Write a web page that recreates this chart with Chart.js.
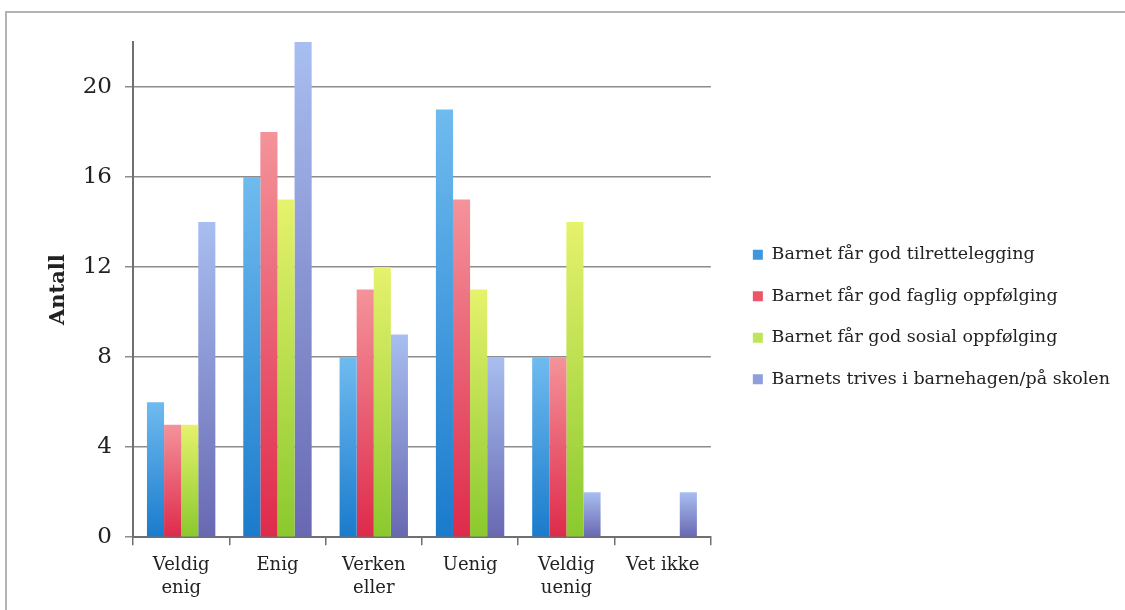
<!DOCTYPE html>
<html>
<head>
<meta charset="utf-8">
<script src="https://cdn.jsdelivr.net/npm/chart.js@4"></script>
<style>
html, body { margin: 0; padding: 0; background: #fff; }
#frame { position: absolute; left: 5px; top: 11px; width: 1125px; height: 610px; border-top: 2px solid #b4b4b4; border-left: 2px solid #b4b4b4; }
#wrap { position: absolute; left: 0; top: 0; width: 1125px; height: 610px; }
</style>
</head>
<body>
<div id="frame"></div>
<div id="wrap"><canvas id="chart"></canvas></div>
<script>
// categories on the x axis
const categories = [['Veldig', 'enig'], 'Enig', ['Verken', 'eller'], 'Uenig', ['Veldig', 'uenig'], 'Vet ikke'];

// series names
const seriesNames = [
    'Barnet får god tilrettelegging',
    'Barnet får god faglig oppfølging',
    'Barnet får god sosial oppfølging',
    'Barnets trives i barnehagen/på skolen'
];

// values (antall)
const tilrettelegging = [6, 16, 8, 19, 8, 0];
const fagligOppfolging = [5, 18, 11, 15, 8, 0];
const sosialOppfolging = [5, 15, 12, 11, 14, 0];
const trives = [14, 22, 9, 8, 2, 2];

const yMax = 22;
const yStep = 4;

// light top / dark bottom of each bar, plus legend swatch
const colors = [
    { light: '#6fbbef', dark: '#1a7bcc', swatch: '#3d97de' },
    { light: '#f4939a', dark: '#de2a4b', swatch: '#ee5468' },
    { light: '#e6f26c', dark: '#8ac92e', swatch: '#bfe65a' },
    { light: '#a8bef0', dark: '#6868b2', swatch: '#8f9fdc' }
];

function barGradient(c) {
    return function(ctx) {
        const chart = ctx.chart;
        const y = chart.scales && chart.scales.y;
        if (!chart.chartArea || !y || ctx.type !== 'data') return c.dark;
        const v = ctx.parsed ? ctx.parsed.y : ctx.raw;
        const top = y.getPixelForValue(v);
        const base = y.getPixelForValue(0);
        if (!isFinite(top) || top >= base) return c.dark;
        const g = chart.ctx.createLinearGradient(0, top, 0, base);
        g.addColorStop(0, c.light);
        g.addColorStop(1, c.dark);
        return g;
    };
}

const allValues = [tilrettelegging, fagligOppfolging, sosialOppfolging, trives];

const datasets = allValues.map((vals, i) => ({
    label: seriesNames[i],
    data: vals,
    backgroundColor: barGradient(colors[i]),
    borderWidth: 0,
    barPercentage: 1.0,
    categoryPercentage: 0.71
}));

const serif = 'DejaVu Serif';
const gridCol = '#8c8c8c';
const axisCol = '#707070';

// empty spacer axis (keeps the legend where it is in the original)
function spacer(position, size) {
    return {
        type: 'linear',
        position: position,
        display: true,
        grid: { display: false },
        border: { display: false },
        ticks: { display: false },
        afterFit: function(scale) {
            if (position === 'top') scale.height = size; else scale.width = size;
        }
    };
}

new Chart(document.getElementById('chart'), {
    type: 'bar',
    data: { labels: categories, datasets: datasets },
    options: {
        responsive: true,
        maintainAspectRatio: false,
        animation: false,
        layout: { padding: { top: 26, left: 6, right: 5, bottom: 2 } },
        scales: {
            x: {
                grid: { display: true, drawOnChartArea: false, offset: true, tickLength: 8, color: axisCol, lineWidth: 1.5 },
                border: { color: axisCol, width: 2 },
                ticks: { font: { family: serif, size: 18, lineHeight: 1.3 }, color: '#222', padding: 8, maxRotation: 0 }
            },
            y: {
                min: 0,
                max: yMax,
                ticks: { stepSize: yStep, includeBounds: false, font: { family: serif, size: 23 }, color: '#222', padding: 13 },
                grid: { color: gridCol, lineWidth: 1.5, tickLength: 8 },
                border: { color: axisCol, width: 2 },
                title: {
                    display: true,
                    text: 'Antall',
                    font: { family: serif, size: 21, weight: 'bold' },
                    color: '#222',
                    padding: { top: 40, bottom: 12 }
                },
                afterFit: function(scale) { scale.width = 127; }
            },
            gapTop: spacer('top', 16),
            gapRight: spacer('right', 18)
        },
        plugins: {
            tooltip: { enabled: false },
            legend: {
                position: 'right',
                maxWidth: 420,
                labels: {
                    font: { family: serif, size: 17.5 },
                    color: '#222',
                    boxWidth: 10,
                    boxHeight: 10,
                    padding: 24,
                    generateLabels: function(chart) {
                        return chart.data.datasets.map((ds, i) => ({
                            text: ds.label,
                            fillStyle: colors[i].swatch,
                            strokeStyle: colors[i].swatch,
                            lineWidth: 0,
                            fontColor: '#222',
                            hidden: false,
                            datasetIndex: i
                        }));
                    }
                }
            }
        }
    }
});
</script>
</body>
</html>
